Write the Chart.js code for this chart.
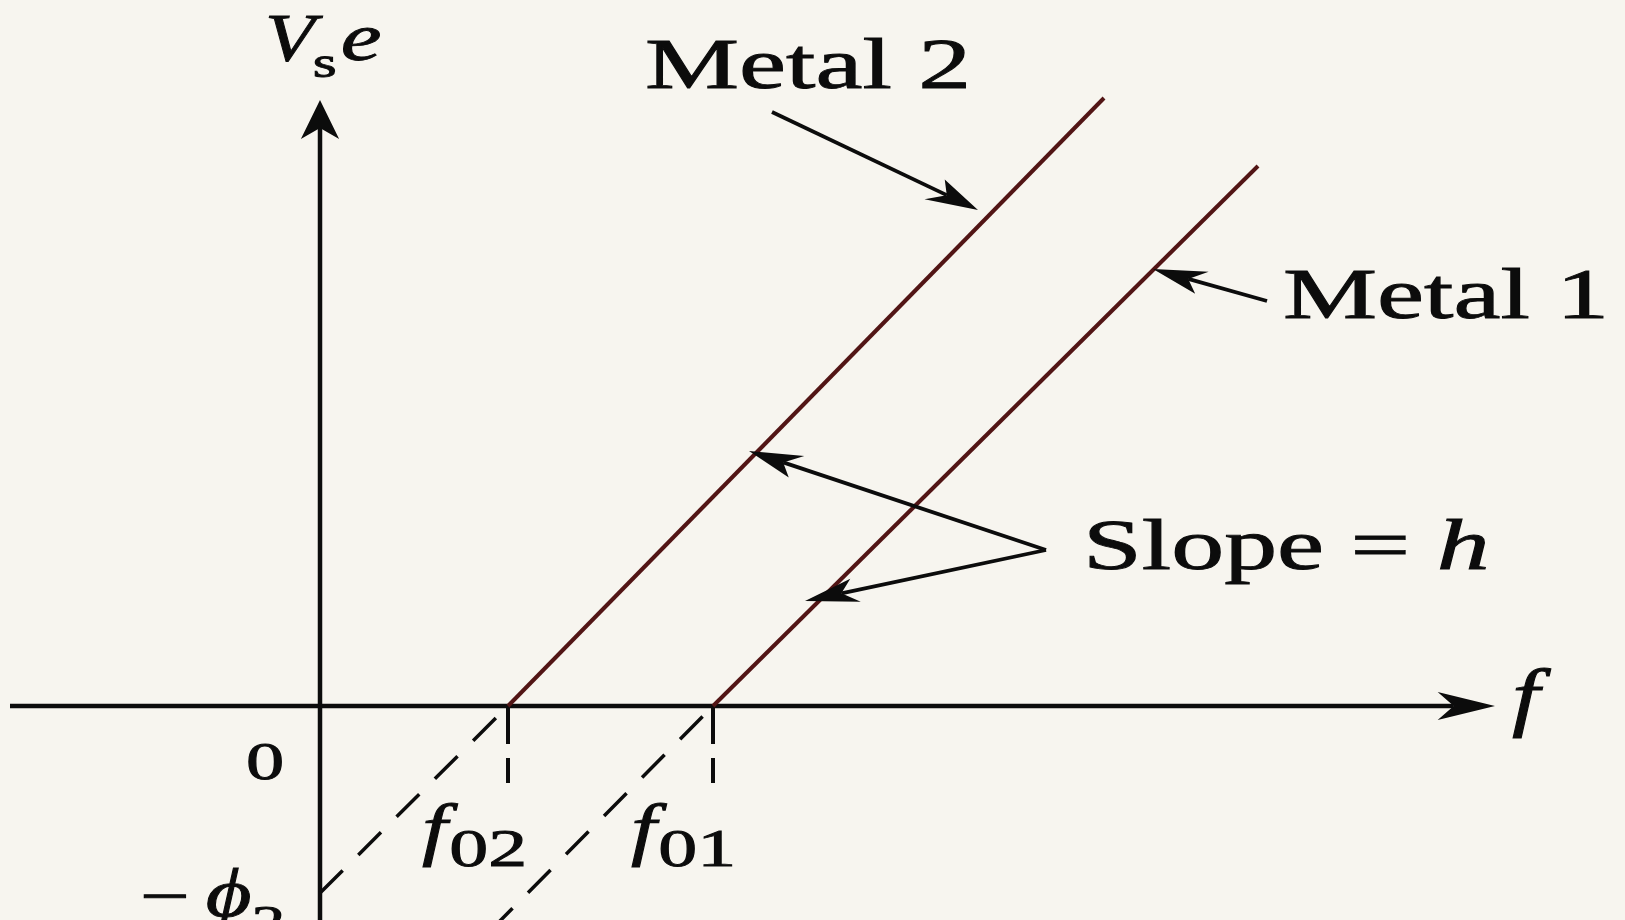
<!DOCTYPE html>
<html>
<head>
<meta charset="utf-8">
<script src="https://cdn.jsdelivr.net/npm/chart.js@4.4.1/dist/chart.umd.min.js"></script>
<style>
  html, body { margin: 0; padding: 0; background: #f7f5ef; }
  #grafico { display: block; }
</style>
</head>
<body>
<canvas id="grafico" width="1625" height="920"></canvas>
<script>
// frequencia (x) e energia Vs*e (y) das duas retas
const freqMetal2 = [1.88, 7.84];
const energiaMetal2 = [0, 6.08];
const freqMetal1 = [3.93, 9.38];
const energiaMetal1 = [0, 5.40];

// prolongamentos tracejados abaixo do eixo f
const freqExtra2 = [0, 1.88];
const energiaExtra2 = [-1.87, 0];
const freqExtra1 = [1.70, 3.93];
const energiaExtra1 = [-2.25, 0];

// frequencias de corte f02 e f01
const limiares = [1.88, 3.93];
const indicesLimiar = ['02', '01'];
const alturaMarca = -0.77;

const S = 1.47; // esticamento horizontal do desenho
const SERIF = "'Liberation Serif', 'Times New Roman', serif";
const COR_METAL = '#521515';
const COR_TINTA = '#0c0c0c';

function pontos(xs, ys) {
    return xs.map((x, i) => ({ x: x, y: ys[i] }));
}

function reta(xs, ys, cor, largura, traco) {
    return {
        data: pontos(xs, ys),
        showLine: true,
        borderColor: cor,
        backgroundColor: cor,
        borderWidth: largura,
        borderDash: traco || [],
        pointRadius: 0,
        fill: false
    };
}

let datasets = [
    reta(freqMetal2, energiaMetal2, COR_METAL, 4),
    reta(freqMetal1, energiaMetal1, COR_METAL, 4),
    reta(freqExtra2, energiaExtra2, COR_TINTA, 3.5, [32, 22]),
    reta(freqExtra1, energiaExtra1, COR_TINTA, 3.5, [32, 22])
];
limiares.forEach(f => {
    datasets.push(reta([f, f], [0, alturaMarca], COR_TINTA, 4, [38, 14]));
});

// ponta de seta com farpas, calculada no espaco sem esticamento
function ponta(ctx, tx, ty, fx, fy, comp, meia) {
    const ux = (tx - fx) / S, uy = ty - fy;
    const d = Math.hypot(ux, uy);
    const dx = ux / d, dy = uy / d;
    const nx = -dy * meia, ny = dx * meia;
    const rec = comp * 0.72;
    ctx.beginPath();
    ctx.moveTo(tx, ty);
    ctx.lineTo(tx + (-dx * comp + nx) * S, ty - dy * comp + ny);
    ctx.lineTo(tx - dx * rec * S, ty - dy * rec);
    ctx.lineTo(tx + (-dx * comp - nx) * S, ty - dy * comp - ny);
    ctx.closePath();
    ctx.fill();
    return [tx - dx * rec * S, ty - dy * rec];
}

function seta(ctx, fx, fy, tx, ty, largura, comp, meia) {
    ctx.fillStyle = COR_TINTA;
    const base = ponta(ctx, tx, ty, fx, fy, comp, meia);
    ctx.strokeStyle = COR_TINTA;
    ctx.lineWidth = largura;
    ctx.beginPath();
    ctx.moveTo(fx, fy);
    ctx.lineTo(base[0], base[1]);
    ctx.stroke();
}

// texto esticado na horizontal, em pedacos com fontes diferentes
function texto(ctx, partes, x, y) {
    let cx = x;
    partes.forEach(p => {
        const esc = p.esc || S;
        ctx.save();
        ctx.font = p.fonte;
        ctx.fillStyle = COR_TINTA;
        ctx.strokeStyle = COR_TINTA;
        ctx.lineWidth = 0.9;
        ctx.textBaseline = 'alphabetic';
        ctx.translate(cx, y + (p.dy || 0));
        ctx.scale(esc, 1);
        ctx.fillText(p.t, 0, 0);
        ctx.strokeText(p.t, 0, 0);
        const w = ctx.measureText(p.t).width;
        ctx.restore();
        cx += w * esc + (p.gap || 0);
    });
}

const setas = [
    { de: [4.52, 5.94], para: [6.58, 4.96] },   // Metal 2
    { de: [9.47, 4.05], para: [8.33, 4.37] },   // Metal 1
    { de: [7.26, 1.56], para: [4.29, 2.55] },   // inclinacao, reta de cima
    { de: [7.26, 1.56], para: [4.85, 1.05] }    // inclinacao, reta de baixo
];

const rotulos = [
    { x: -0.55, y: 6.46, partes: [
        { t: 'V', fonte: 'italic 68px ' + SERIF, esc: 1.2, gap: -2 },
        { t: 's', fonte: '44px ' + SERIF, dy: 17, esc: 1.4, gap: 4 },
        { t: 'e', fonte: 'italic 68px ' + SERIF, esc: 1.35 }
    ] },
    { x: 3.25, y: 6.18, partes: [{ t: 'Metal 2', fonte: '72px ' + SERIF }] },
    { x: 9.63, y: 3.88, partes: [{ t: 'Metal 1', fonte: '72px ' + SERIF }] },
    { x: 7.63, y: 1.37, partes: [
        { t: 'Slope = ', fonte: '72px ' + SERIF },
        { t: 'h', fonte: 'italic 72px ' + SERIF }
    ] },
    { x: 11.92, y: -0.16, partes: [{ t: 'f', fonte: 'italic 76px ' + SERIF, esc: 1.3 }] },
    { x: -0.74, y: -0.73, partes: [{ t: '0', fonte: '52px ' + SERIF }] },
    { x: -1.80, y: -2.10, partes: [
        { t: '\u2212', fonte: '60px ' + SERIF, gap: 16 },
        { t: '\u03d5', fonte: 'italic 68px ' + SERIF, esc: 1.3 },
        { t: '2', fonte: '46px ' + SERIF, dy: 22 }
    ] }
];
limiares.forEach((f, i) => {
    rotulos.push({ x: f - 0.86 + (i ? 0.04 : 0), y: -1.46, partes: [
        { t: 'f', fonte: 'italic 70px ' + SERIF, esc: 1.3, gap: 2 },
        { t: indicesLimiar[i], fonte: '53px ' + SERIF, dy: 14 }
    ] });
});

const desenhoExtra = {
    id: 'desenhoExtra',
    beforeDatasetsDraw(chart) {
        const ctx = chart.ctx;
        const xs = chart.scales.x, ys = chart.scales.y;
        const x0 = xs.getPixelForValue(0), y0 = ys.getPixelForValue(0);
        ctx.save();
        // eixo f
        seta(ctx, xs.getPixelForValue(-3.10), y0, xs.getPixelForValue(11.75), y0, 4.5, 39, 14);
        // eixo Vs e
        seta(ctx, x0, ys.getPixelForValue(-2.20), x0, ys.getPixelForValue(6.06), 4.5, 39, 13);
        ctx.restore();
    },
    afterDatasetsDraw(chart) {
        const ctx = chart.ctx;
        const xs = chart.scales.x, ys = chart.scales.y;
        ctx.save();
        setas.forEach(s => {
            seta(ctx,
                xs.getPixelForValue(s.de[0]), ys.getPixelForValue(s.de[1]),
                xs.getPixelForValue(s.para[0]), ys.getPixelForValue(s.para[1]),
                3.8, 36, 12);
        });
        rotulos.forEach(r => {
            texto(ctx, r.partes, xs.getPixelForValue(r.x), ys.getPixelForValue(r.y));
        });
        ctx.restore();
    }
};

new Chart(document.getElementById('grafico').getContext('2d'), {
    type: 'scatter',
    data: { datasets: datasets },
    options: {
        responsive: false,
        animation: false,
        layout: { padding: 0 },
        plugins: { legend: { display: false }, tooltip: { enabled: false } },
        scales: {
            x: { type: 'linear', min: -3.20, max: 13.05, display: false },
            y: { type: 'linear', min: -2.14, max: 7.06, display: false }
        }
    },
    plugins: [desenhoExtra]
});
</script>
</body>
</html>
